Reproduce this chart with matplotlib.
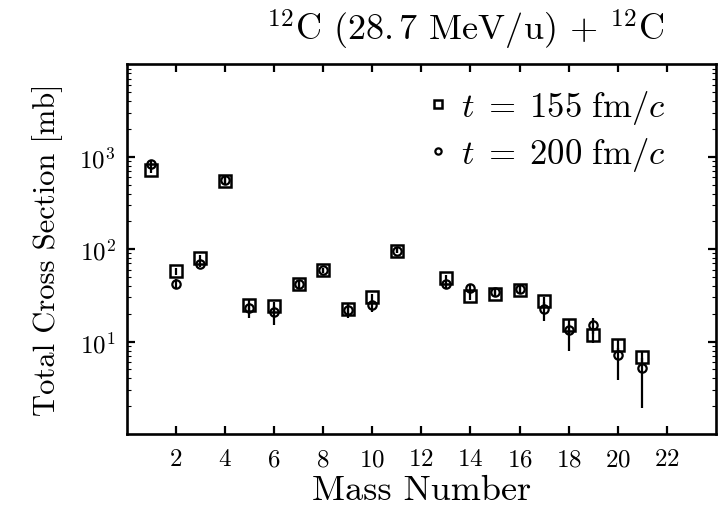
import numpy as np
import matplotlib.pyplot as plt

plt.rcParams['font.family'] = 'cmr10'
plt.rcParams['mathtext.fontset'] = 'cm'
plt.rcParams['axes.formatter.use_mathtext'] = True

# mass numbers and cross sections [mb]
mass_sq = np.array([1, 2, 3, 4, 5, 6, 7, 8, 9, 10, 11, 13, 14, 15, 16, 17, 18, 19, 20, 21])
sigma_155 = np.array([720, 58, 81, 550, 25, 24, 42, 59, 22.5, 30, 96, 49, 31, 33, 36, 27.5, 15, 11.7, 9.1, 6.8])
err_155 = np.array([60, 5, 6, 40, 3, 3, 3, 4, 3, 3, 6, 4, 3, 3, 3, 3, 2, 2, 1.5, 1.2])

mass_ci = np.array([1, 2, 3, 4, 5, 6, 7, 8, 9, 10, 11, 13, 14, 15, 16, 17, 18, 19, 20, 21])
sigma_200 = np.array([830, 42, 69, 560, 23, 21, 42, 59, 22, 25, 96, 42, 38, 34, 37, 22.5, 13.5, 15, 7.1, 5.2])
err_200_lo = np.array([60, 5, 5, 40, 5, 6, 4, 4, 4, 4, 6, 4, 4, 3, 3, 6, 5.5, 3, 3.3, 3.3])
err_200_hi = np.array([60, 5, 5, 40, 3, 3, 3, 4, 3, 3, 6, 4, 4, 3, 3, 4, 2, 3, 1.5, 1.5])

fig = plt.figure(figsize=(7.24, 5.10), dpi=100)
ax = fig.add_axes([0.175, 0.147, 0.814, 0.725])

eb1 = ax.errorbar(mass_sq, sigma_155, yerr=err_155, fmt='s', mfc='none', mec='black',
                  ms=8.5, mew=1.8, ecolor='black', elinewidth=1.6, capsize=0)
eb2 = ax.errorbar(mass_ci, sigma_200, yerr=[err_200_lo, err_200_hi], fmt='o', mfc='none',
                  mec='black', ms=6, mew=1.6, ecolor='black', elinewidth=1.6, capsize=0)

ax.set_yscale('log')
ax.set_xlim(0, 24)
ax.set_ylim(1, 1e4)
ax.set_xticks([2, 4, 6, 8, 10, 12, 14, 16, 18, 20, 22])
ax.set_yticks([10, 100, 1000])
ax.tick_params(axis='both', which='major', direction='in', length=6, width=1.6,
               top=True, right=True, labelsize=18)
ax.tick_params(axis='x', which='major', pad=10)
ax.tick_params(axis='y', which='major', pad=8)
ax.tick_params(axis='y', which='minor', direction='in', length=3, width=0.8, right=True)
for sp in ax.spines.values():
    sp.set_linewidth(1.9)

ax.set_xlabel('Mass Number', fontsize=26, labelpad=3)
ax.set_ylabel('Total Cross Section [mb]', fontsize=22, labelpad=12)
fig.text(0.642, 0.942, r'$^{12}$C (28.$\,$7 MeV/u) + $^{12}$C', ha='center', va='center', fontsize=26)

ax.legend([eb1[0], eb2[0]], [r'$t\;=\;155\ \mathrm{fm}/c$', r'$t\;=\;200\ \mathrm{fm}/c$'],
          loc='upper left', bbox_to_anchor=(0.505, 0.935), frameon=False, fontsize=25,
          handletextpad=0.25, handlelength=0.8, borderpad=0, borderaxespad=0,
          labelspacing=0.25, markerscale=0.75)

fig.savefig('out.png', dpi=100)
